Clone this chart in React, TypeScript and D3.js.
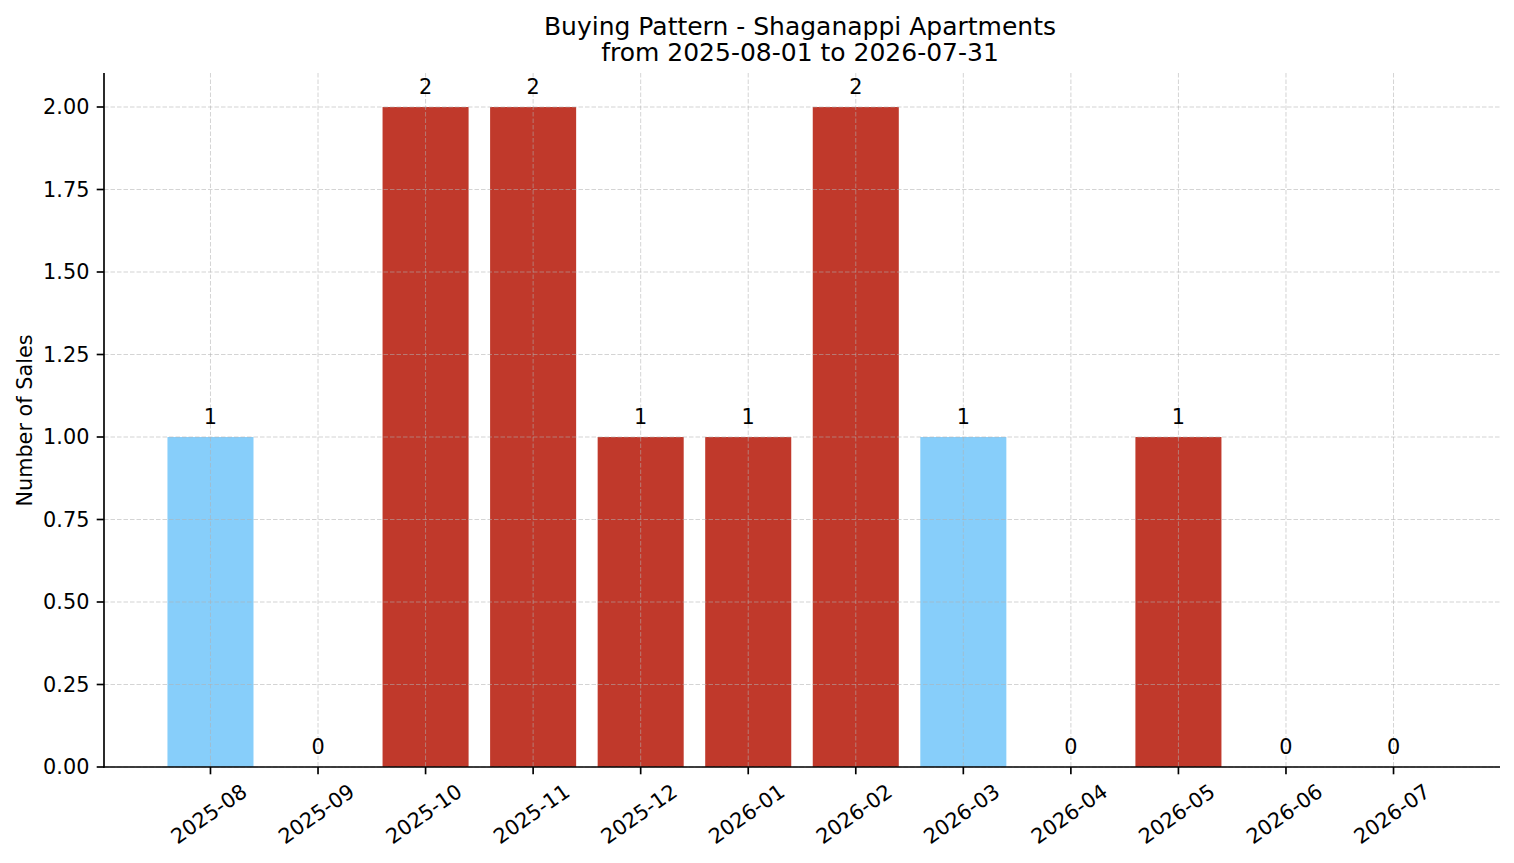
import React from "react";
import * as d3 from "d3";

const months = [
  "2025-08", "2025-09", "2025-10", "2025-11", "2025-12", "2026-01",
  "2026-02", "2026-03", "2026-04", "2026-05", "2026-06", "2026-07",
];
const sales = [1, 0, 2, 2, 1, 1, 2, 1, 0, 1, 0, 0];
const highlightedMonths = ["2025-08", "2026-03"];
const yTicks = [0, 0.25, 0.5, 0.75, 1.0, 1.25, 1.5, 1.75, 2.0];
const titleLines = ["Buying Pattern - Shaganappi Apartments", "from 2025-08-01 to 2026-07-31"];
const yLabel = "Number of Sales";

const W = 1514;
const H = 863;
const left = 104;
const right = 1500;
const top = 74;
const bottom = 767;
const FONT = "'DejaVu Sans', sans-serif";
const RED = "#C0392B";
const BLUE = "#87CEFA";

export default function App() {
  const x = d3.scaleLinear().domain([-0.99, months.length - 0.01]).range([left, right]);
  const y = d3.scaleLinear().domain([0, 2.1]).range([bottom, top]);
  const step = x(1) - x(0);
  const barW = step * 0.8;
  const tickLen = 7.3;
  const gridStyle = { stroke: "#b0b0b0", strokeOpacity: 0.55, strokeWidth: 1, strokeDasharray: "4.5,2" };

  return (
    <svg width={W} height={H} style={{ position: "absolute", left: 0, top: 0, background: "#fff" }} fontFamily={FONT}>
      <rect x={0} y={0} width={W} height={H} fill="#fff" />
      {/* bars */}
      {months.map((m, i) => (
        <rect
          key={m}
          x={x(i) - barW / 2}
          y={y(sales[i])}
          width={barW}
          height={y(0) - y(sales[i])}
          fill={highlightedMonths.includes(m) ? BLUE : RED}
        />
      ))}
      {/* grid */}
      {yTicks.map((t) => (
        <line key={"gy" + t} x1={left} x2={right} y1={y(t)} y2={y(t)} {...gridStyle} />
      ))}
      {months.map((m, i) => (
        <line key={"gx" + m} x1={x(i)} x2={x(i)} y1={top - 1} y2={bottom} {...gridStyle} />
      ))}
      {/* value labels */}
      {months.map((m, i) => (
        <text key={"v" + m} x={x(i)} y={y(sales[i]) - 13} textAnchor="middle" fontSize={20.8} fill="#000">
          {sales[i]}
        </text>
      ))}
      {/* spines */}
      <line x1={left} x2={left} y1={top - 1} y2={bottom + 0.8} stroke="#000" strokeWidth={1.67} />
      <line x1={left - 0.8} x2={right} y1={bottom} y2={bottom} stroke="#000" strokeWidth={1.67} />
      {/* y ticks */}
      {yTicks.map((t) => (
        <g key={"yt" + t}>
          <line x1={left - tickLen} x2={left} y1={y(t)} y2={y(t)} stroke="#000" strokeWidth={1.67} />
          <text x={left - tickLen - 7.3} y={y(t)} textAnchor="end" dominantBaseline="central" fontSize={20.8} fill="#000">
            {d3.format(".2f")(t)}
          </text>
        </g>
      ))}
      {/* x ticks */}
      {months.map((m, i) => (
        <g key={"xt" + m}>
          <line x1={x(i)} x2={x(i)} y1={bottom} y2={bottom + tickLen} stroke="#000" strokeWidth={1.67} />
          <text
            transform={`translate(${x(i) - 1.5},${814}) rotate(-35)`}
            textAnchor="middle"
            dominantBaseline="central"
            fontSize={20.8}
            fill="#000"
          >
            {m}
          </text>
        </g>
      ))}
      {/* y label */}
      <text transform={`translate(32,${(top + bottom) / 2}) rotate(-90)`} textAnchor="middle" fontSize={20.8} fill="#000">
        {yLabel}
      </text>
      {/* title */}
      {titleLines.map((l, i) => (
        <text key={l} x={(left + right) / 2 - 2} y={35 + i * 26} textAnchor="middle" fontSize={25} fill="#000">
          {l}
        </text>
      ))}
    </svg>
  );
}
